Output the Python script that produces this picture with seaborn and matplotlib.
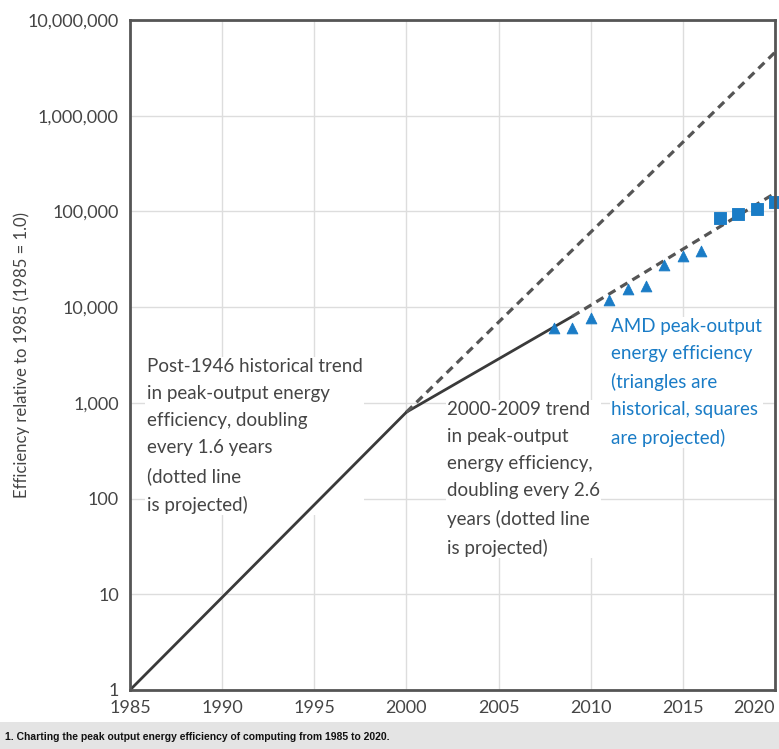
import matplotlib
matplotlib.use("Agg")
import matplotlib.pyplot as plt
import matplotlib.ticker as mticker
from matplotlib.patches import Rectangle
import seaborn as sns

# historical trend 1985-2000 and its projection
hist_years = [1985, 2000]
hist_vals = [1, 800]
hist_proj_years = [2000, 2020]
hist_proj_vals = [800, 4.6e6]

# 2000-2009 trend and its projection
trend_years = [2000, 2009]
trend_vals = [800, 8000]
trend_proj_years = [2009, 2020]
trend_proj_vals = [8000, 155000]

# AMD points
tri_years = [2008, 2009, 2010, 2011, 2012, 2013, 2014, 2015, 2016]
tri_vals = [6000, 6100, 7700, 11800, 15400, 16600, 27500, 34000, 39000]
sq_years = [2017, 2018, 2019, 2020]
sq_vals = [85000, 93000, 105000, 124000]

x_ticks = [1985, 1990, 1995, 2000, 2005, 2010, 2015, 2020]
y_ticks = [1, 10, 100, 1000, 10000, 100000, 1000000, 10000000]

GRAY = "#3a3a3a"
TEXT = "#454545"
BLUE = "#1a7cc6"

sns.set_style("white")
plt.rcParams['font.family'] = ['Lato', 'DejaVu Sans']

fig = plt.figure(figsize=(7.79, 7.49), dpi=100)
ax = fig.add_axes([130 / 779, 1 - 690 / 749, 645 / 779, 670 / 749])

ax.set_yscale("log")
ax.set_xlim(1985, 2020)
ax.set_ylim(1, 1e7)

sns.lineplot(x=hist_years, y=hist_vals, ax=ax, color=GRAY, lw=2, zorder=3)
sns.lineplot(x=trend_years, y=trend_vals, ax=ax, color=GRAY, lw=2, zorder=3)
sns.lineplot(x=hist_proj_years, y=hist_proj_vals, ax=ax, color="#555555",
             lw=2.3, linestyle=(0, (2.6, 1.8)), zorder=3)
sns.lineplot(x=trend_proj_years, y=trend_proj_vals, ax=ax, color="#555555",
             lw=2.3, linestyle=(0, (2.6, 1.8)), zorder=3)

sns.scatterplot(x=tri_years, y=tri_vals, ax=ax, marker="^", s=60,
                color=BLUE, edgecolor=BLUE, zorder=5, clip_on=False)
sns.scatterplot(x=sq_years, y=sq_vals, ax=ax, marker="s", s=65,
                color=BLUE, edgecolor=BLUE, zorder=5, clip_on=False)

ax.set_xticks(x_ticks)
ax.set_yticks(y_ticks)
ax.yaxis.set_minor_locator(mticker.NullLocator())
ax.set_yticklabels([f"{v:,}" for v in y_ticks])
ax.set_xticklabels([str(v) for v in x_ticks])
ax.tick_params(axis="both", length=0, labelsize=13, labelcolor=TEXT)
ax.tick_params(axis="y", pad=8)
ax.tick_params(axis="x", pad=7)
ax.get_xticklabels()[-1].set_horizontalalignment("right")
ax.grid(True, color="#dddddd", lw=1)
ax.set_axisbelow(True)
for sp in ax.spines.values():
    sp.set_color("#555555")
    sp.set_linewidth(2)
    sp.set_zorder(6)

ax.set_ylabel("Efficiency relative to 1985 (1985 = 1.0)", fontsize=12,
              color=TEXT)
ax.yaxis.set_label_coords(-100 / 645, 0.5)

box = dict(facecolor="white", edgecolor="none", pad=1)
ax.text(1985.9, 2950,
        "Post-1946 historical trend\nin peak-output energy\nefficiency, doubling\n"
        "every 1.6 years\n(dotted line\nis projected)",
        fontsize=13.5, color=TEXT, va="top", ha="left", linespacing=1.72,
        bbox=box, zorder=1)
ax.text(2002.2, 1050,
        "2000-2009 trend\nin peak-output\nenergy efficiency,\n"
        "doubling every 2.6\nyears (dotted line\nis projected)",
        fontsize=13.5, color=TEXT, va="top", ha="left", linespacing=1.72,
        bbox=box, zorder=1)
ax.text(2011.1, 7680,
        "AMD peak-output\nenergy efficiency\n(triangles are\n"
        "historical, squares\nare projected)",
        fontsize=13.5, color=BLUE, va="top", ha="left", linespacing=1.72,
        bbox=box, zorder=1)

fig.patches.append(Rectangle((0, 0), 1, 27 / 749, transform=fig.transFigure,
                             facecolor="#e4e4e4", edgecolor="none"))
fig.text(5 / 779, 12 / 749,
         "1. Charting the peak output energy efficiency of computing from 1985 to 2020.",
         fontsize=7.5, fontweight="bold", color="#111111",
         family=['Liberation Sans', 'DejaVu Sans'], va="center", ha="left")

fig.savefig("out.png", dpi=100)
